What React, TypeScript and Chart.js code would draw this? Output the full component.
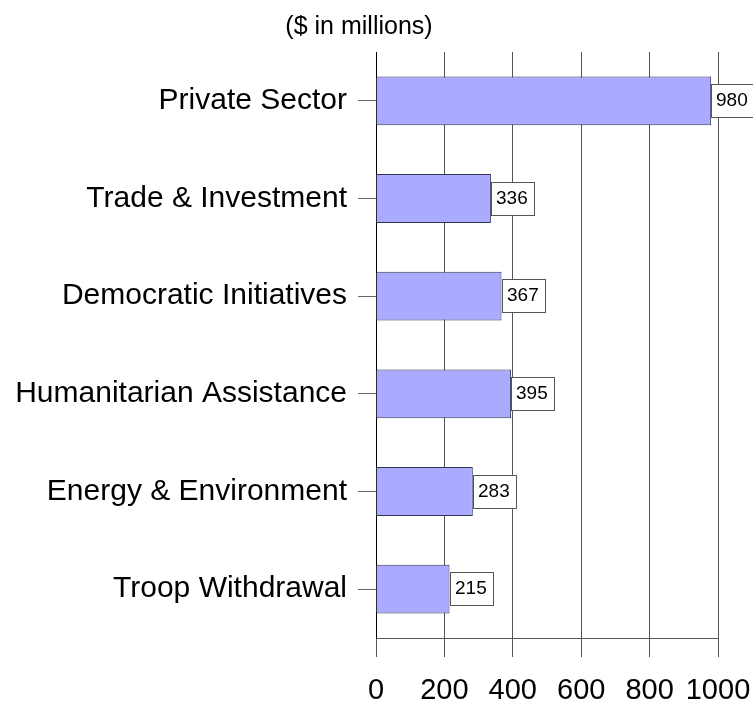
import React, { useEffect, useRef } from "react";
import { Chart, registerables } from "chart.js";

Chart.register(...registerables);

const FONT = "'Liberation Sans', Arial, sans-serif";

const categories = [
  "Private Sector",
  "Trade & Investment",
  "Democratic Initiatives",
  "Humanitarian Assistance",
  "Energy & Environment",
  "Troop Withdrawal",
];
const values = [980, 336, 367, 395, 283, 215];
const titleText = "($ in millions)";
const xMin = 0;
const xMax = 1000;
const xStep = 200;

const valueBoxes = {
  id: "valueBoxes",
  afterDatasetsDraw(chart: any) {
    const ctx = chart.ctx;
    const meta = chart.getDatasetMeta(0);
    ctx.save();
    ctx.font = `19px ${FONT}`;
    meta.data.forEach((bar: any, i: number) => {
      const text = String(values[i]);
      const tw = ctx.measureText(text).width;
      const w = Math.round(tw + 11);
      const h = 33;
      const x = Math.round(bar.x);
      const y = Math.round(bar.y - 1);
      const top = Math.round(y - h / 2);
      ctx.fillStyle = "#ffffff";
      ctx.fillRect(x, top, w, h);
      ctx.strokeStyle = "#555555";
      ctx.lineWidth = 1;
      ctx.strokeRect(x + 0.5, top + 0.5, w, h);
      ctx.fillStyle = "#000000";
      ctx.textAlign = "left";
      ctx.textBaseline = "middle";
      ctx.fillText(text, x + 5, y + 1);
    });
    ctx.restore();
  },
};

export default function App() {
  const ref = useRef<HTMLCanvasElement | null>(null);
  useEffect(() => {
    if (!ref.current) return;
    Chart.defaults.font.family = FONT;
    const chart = new Chart(ref.current, {
      type: "bar",
      data: {
        labels: categories,
        datasets: [
          {
            data: values,
            backgroundColor: "#aaaaff",
            borderColor: "#333355",
            borderWidth: 1,
            barPercentage: 0.5,
            categoryPercentage: 1,
          },
        ],
      },
      options: {
        indexAxis: "y",
        animation: false,
        responsive: true,
        maintainAspectRatio: false,
        devicePixelRatio: 1,
        layout: { padding: { left: 0, right: 35, top: 0, bottom: 0 } },
        plugins: {
          legend: { display: false },
          tooltip: { enabled: false },
          title: {
            display: true,
            text: titleText,
            color: "#000",
            font: { size: 25, weight: "normal", family: FONT },
            padding: { top: 12, bottom: 10 },
          },
        },
        scales: {
          x: {
            type: "linear",
            min: xMin,
            max: xMax,
            ticks: {
              stepSize: xStep,
              autoSkip: false,
              color: "#000",
              font: { size: 29, family: FONT },
              padding: 17,
              maxRotation: 0,
              callback: (v: any) => String(v),
            },
            grid: { color: "#555555", tickLength: 19, drawTicks: true },
            border: { display: true, color: "#555555" },
            afterFit(scale: any) {
              scale.height = 66;
              scale.paddingLeft = 0;
              scale.paddingRight = 0;
            },
          },
          y: {
            type: "category",
            ticks: {
              color: "#000",
              font: { size: 30, family: FONT },
              padding: 11,
              autoSkip: false,
            },
            grid: {
              drawOnChartArea: false,
              offset: false,
              tickLength: 18,
              color: "#666666",
            },
            border: { display: true, color: "#000000" },
            afterFit(scale: any) {
              scale.width = 376;
              scale.paddingTop = 0;
              scale.paddingBottom = 0;
            },
          },
        },
      },
      plugins: [valueBoxes],
    } as any);
    return () => chart.destroy();
  }, []);
  return (
    <div style={{ position: "absolute", left: 0, top: 0, width: 753, height: 704 }}>
      <canvas ref={ref} />
    </div>
  );
}
